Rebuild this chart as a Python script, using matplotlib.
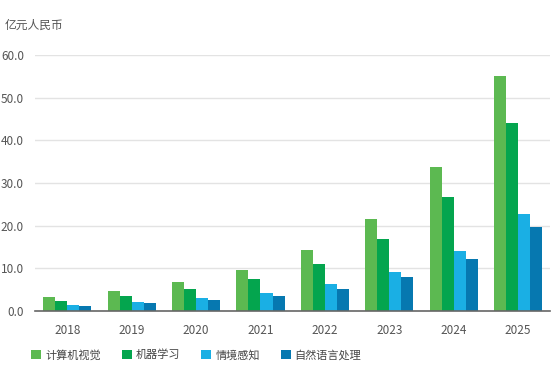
import matplotlib
matplotlib.use("Agg")
import numpy as np
import matplotlib.pyplot as plt
from matplotlib.patches import Patch

plt.rcParams['font.family'] = ['Noto Sans CJK SC', 'DejaVu Sans']

years = ["2018", "2019", "2020", "2021", "2022", "2023", "2024", "2025"]
series_names = ["计算机视觉", "机器学习", "情境感知", "自然语言处理"]
vision = [3.2, 4.6, 6.7, 9.7, 14.3, 21.6, 33.7, 55.0]
ml = [2.4, 3.5, 5.1, 7.5, 11.1, 17.0, 26.8, 44.0]
context = [1.5, 2.1, 3.0, 4.3, 6.3, 9.2, 14.1, 22.7]
nlp = [1.2, 1.8, 2.5, 3.5, 5.2, 7.9, 12.2, 19.7]
colors = ["#5cb951", "#04a54e", "#1aafe4", "#0678b0"]


def main():
	fig = plt.figure(figsize=(5.58, 3.66), dpi=100)
	ax = fig.add_axes([0.063, 0.150, 0.923, 0.700])

	x = np.arange(len(years))
	w = 0.187
	for i, vals in enumerate([vision, ml, context, nlp]):
		ax.bar(x + (i - 1.5) * w, vals, width=w, color=colors[i], zorder=3)

	ax.set_xlim(-0.5, len(years) - 0.5)
	ax.set_ylim(0, 60)
	ax.set_yticks(np.arange(0, 61, 10))
	ax.set_yticklabels(["%.1f" % v for v in np.arange(0, 61, 10)])
	ax.set_xticks(x)
	ax.set_xticklabels(years)
	ax.tick_params(length=0, labelsize=8.5, colors="#555555")
	ax.tick_params(axis="x", pad=9)
	ax.tick_params(axis="y", pad=8)
	ax.grid(axis="y", color="#e3e3e3", linewidth=1.0, zorder=0)
	for s in ["top", "right", "left"]:
		ax.spines[s].set_visible(False)
	ax.spines["bottom"].set_color("#666666")
	ax.spines["bottom"].set_linewidth(1.2)
	ax.spines["bottom"].set_zorder(4)

	fig.text(0.009, 0.932, "亿元人民币", fontsize=8.5, color="#555555", va="center")

	handles = [Patch(facecolor=c) for c in colors]
	fig.legend(handles, series_names, loc="center left", bbox_to_anchor=(0.038, 0.030),
			   ncol=4, frameon=False, fontsize=8, handlelength=0.9, handleheight=0.9,
			   handletextpad=0.35, columnspacing=1.9, labelcolor="#444444")

	fig.savefig("out.png", dpi=100)


if __name__ == '__main__':
	main()
